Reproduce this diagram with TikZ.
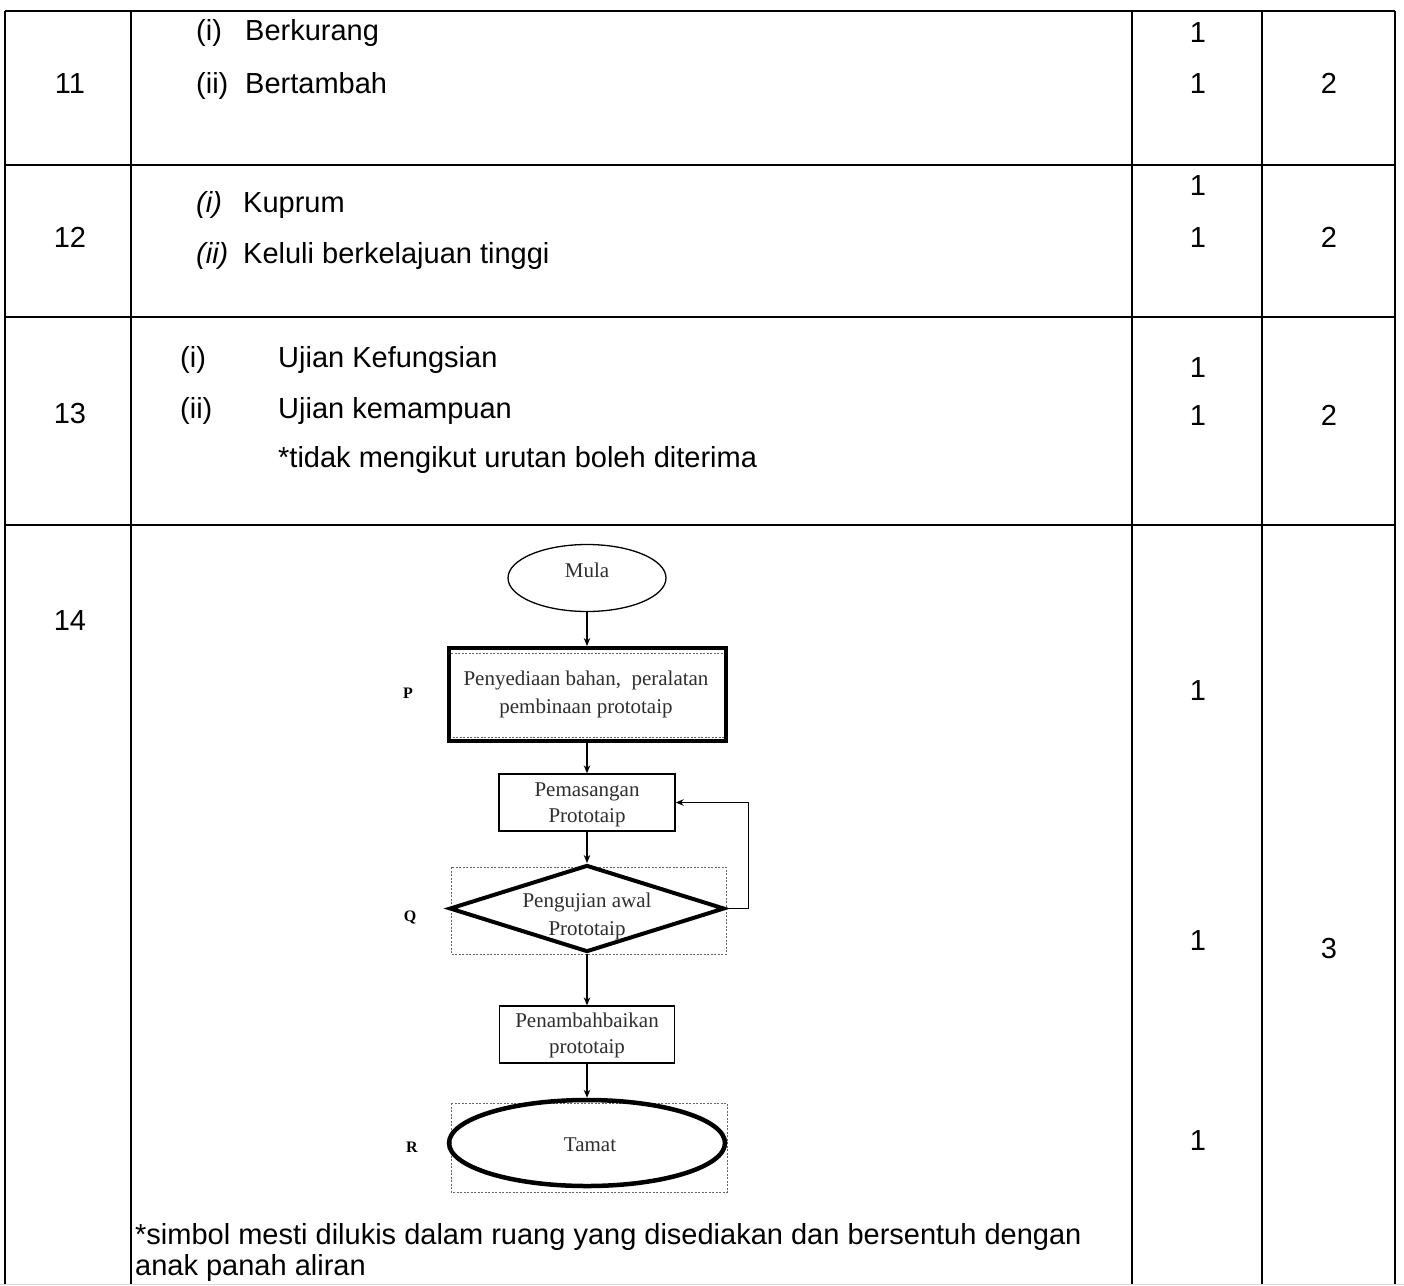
\documentclass[tikz,border=0pt]{standalone}
\usepackage{fontspec}
\setmainfont{Liberation Sans}
\newfontfamily\fcfont{Liberation Serif}
\usetikzlibrary{shapes.geometric,arrows.meta}
\begin{document}
\begin{tikzpicture}[x=1pt,y=-1pt,
  tx/.style={font=\fontsize{29}{35}\selectfont, inner sep=0, anchor=base west},
  num/.style={font=\fontsize{29}{35}\selectfont, inner sep=0, anchor=base},
  grid/.style={line width=2pt, black},
  fc/.style={font=\fcfont\fontsize{21}{27}\selectfont, text=black!82, align=center, inner sep=0},
  lab/.style={font=\fcfont\bfseries\fontsize{16}{18}\selectfont, inner sep=0},
  procbox/.style={draw, line width=1.3pt, inner sep=0, minimum width=176pt, minimum height=57pt},
  thick4/.style={draw, line width=4pt, inner sep=0},
  dashbox/.style={draw=black!60, line width=1pt, dash pattern=on 2pt off 1.5pt},
  arr/.style={-{Stealth[length=8pt,width=6.5pt]}, line width=1.3pt}
]
\useasboundingbox (0,0) rectangle (1404,1285);
\fill[white] (0,0) rectangle (1404,1285);

% ---- table grid ----
\draw[grid] (5,11) -- (1395,11);
\draw[grid] (5,165) -- (1395,165);
\draw[grid] (5,317) -- (1395,317);
\draw[grid] (5,525) -- (1395,525);
\foreach \xx in {5,131,1132,1262,1395} \draw[grid] (\xx,11) -- (\xx,1285);
\draw[black!15, line width=1pt] (0,1284) -- (1404,1284);

% ---- row 11 ----
\node[num] (n11) at (70,93) {11};
\node[tx] (r11ai) at (196,40) {(i)};
\node[tx] (r11a) at (245,40) {Berkurang};
\node[tx] (r11bi) at (196,93) {(ii)};
\node[tx] (r11b) at (245,93) {Bertambah};
\node[num] (m11a) at (1198,42) {1};
\node[num] (m11b) at (1198,93) {1};
\node[num] (t11) at (1329,93) {2};

% ---- row 12 ----
\node[num] (n12) at (70,247) {12};
\node[tx] (r12ai) at (196,212) {\itshape (i)};
\node[tx] (r12a) at (243,212) {Kuprum};
\node[tx] (r12bi) at (196,263) {\itshape (ii)};
\node[tx] (r12b) at (243,263) {Keluli berkelajuan tinggi};
\node[num] (m12a) at (1198,195) {1};
\node[num] (m12b) at (1198,247) {1};
\node[num] (t12) at (1329,247) {2};

% ---- row 13 ----
\node[num] (n13) at (70,423) {13};
\node[tx] (r13ai) at (180,367) {(i)};
\node[tx] (r13a) at (278,367) {Ujian Kefungsian};
\node[tx] (r13bi) at (180,418) {(ii)};
\node[tx] (r13b) at (278,418) {Ujian kemampuan};
\node[tx] (r13c) at (278,467) {*tidak mengikut urutan boleh diterima};
\node[num] (m13a) at (1198,377) {1};
\node[num] (m13b) at (1198,425) {1};
\node[num] (t13) at (1329,425) {2};

% ---- row 14 ----
\node[num] (n14) at (70,630) {14};
\node[num] (m14a) at (1198,700) {1};
\node[num] (m14b) at (1198,950) {1};
\node[num] (m14c) at (1198,1150) {1};
\node[num] (t14) at (1329,958) {3};
\node[tx] (fn1) at (135,1244) {*simbol mesti dilukis dalam ruang yang disediakan dan bersentuh dengan};
\node[tx] (fn2) at (135,1275) {anak panah aliran};

% ---- flowchart ----
\node[ellipse, draw, line width=1.3pt, inner sep=0, minimum width=158pt, minimum height=67pt] (mula) at (587,578) {};
\node[fc] (mulat) at (587,570) {Mula};

\draw[dashbox] (449,653) rectangle (724,737);
\node[thick4, minimum width=277pt, minimum height=93pt] (pbox) at (587,694.5) {};
\node[fc] (pboxt) at (586,694) {Penyediaan bahan,\ \ peralatan\\[1pt]pembinaan prototaip};
\node[lab] (plab) at (408,693) {P};

\node[procbox] (pem) at (587,802.5) {};
\node[fc] (pemt) at (587,805) {Pemasangan\\[-1pt]Prototaip};

\draw[dashbox] (451,867) rectangle (726,954);
\node[diamond, thick4, minimum width=275pt, minimum height=87pt] (dia) at (587,908.5) {};
\node[fc] (diat) at (587,916) {Pengujian awal\\[1pt]Prototaip};
\node[lab] (qlab) at (410,917) {Q};

\node[procbox, minimum width=175pt] (pen) at (587,1034.5) {};
\node[fc] (pent) at (587,1035.5) {Penambahbaikan\\[-1pt]prototaip};

\draw[dashbox] (451,1103) rectangle (727,1192);
\node[ellipse, thick4, line width=4.5pt, minimum width=276pt, minimum height=86pt] (tamat) at (587,1143) {};
\node[fc] (tamatt) at (590,1145) {Tamat};
\node[lab] (rlab) at (412,1147) {R};

% ---- connectors ----
\draw[arr] (mula.south) -- (pbox.north);
\draw[arr] (pbox.south) -- (pem.north);
\draw[arr] (pem.south) -- (dia.north);
\draw[arr] (dia.south) -- (pen.north);
\draw[arr] (pen.south) -- (tamat.north);
\draw[arr] (dia.east) -- ++(22,0) |- (pem.east);
\end{tikzpicture}
\end{document}
